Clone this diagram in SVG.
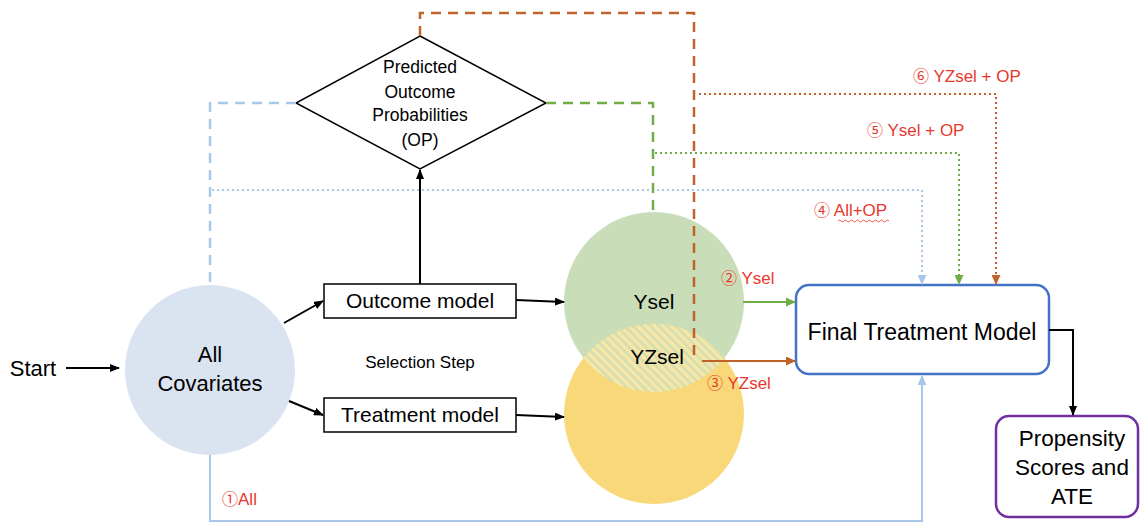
<svg xmlns="http://www.w3.org/2000/svg" width="1140" height="523" viewBox="0 0 1140 523">
<style>
  text { font-family: "Liberation Sans", "DejaVu Sans", Arial, sans-serif; fill: #000; }
  .lbl { font-size: 17px; fill: #E8382E; }
  .cd { font-family: "Noto Sans CJK JP", "DejaVu Sans", sans-serif; font-size: 16px; }
  .box { fill: #fff; stroke: #000; stroke-width: 1.5; }
  .blk { stroke: #000; stroke-width: 2; fill: none; }
  .bl-dash { stroke: #A9C7E8; stroke-width: 2.5; fill: none; stroke-dasharray: 10 7; }
  .bl-dot { stroke: #A9C7E8; stroke-width: 2; fill: none; stroke-dasharray: 2 3; }
  .bl-sol { stroke: #A9C7E8; stroke-width: 2; fill: none; }
  .gr-dash { stroke: #70AD47; stroke-width: 2.5; fill: none; stroke-dasharray: 10 7; }
  .gr-dot { stroke: #70AD47; stroke-width: 2; fill: none; stroke-dasharray: 2 3; }
  .gr-sol { stroke: #70AD47; stroke-width: 2; fill: none; }
  .or-dash { stroke: #C0632B; stroke-width: 2.5; fill: none; stroke-dasharray: 10 7; }
  .or-dot { stroke: #C0632B; stroke-width: 2; fill: none; stroke-dasharray: 2 3; }
  .or-sol { stroke: #C0632B; stroke-width: 2; fill: none; }
</style>
<defs>
  <marker id="ah-k" markerWidth="10" markerHeight="8" refX="9" refY="4" orient="auto" markerUnits="userSpaceOnUse">
    <path d="M0,0 L10,4 L0,8 Z" fill="#000"/>
  </marker>
  <marker id="ah-b" markerWidth="10" markerHeight="9" refX="9" refY="4.5" orient="auto" markerUnits="userSpaceOnUse">
    <path d="M0,0 L10,4.5 L0,9 Z" fill="#A9C7E8"/>
  </marker>
  <marker id="ah-g" markerWidth="10" markerHeight="9" refX="9" refY="4.5" orient="auto" markerUnits="userSpaceOnUse">
    <path d="M0,0 L10,4.5 L0,9 Z" fill="#70AD47"/>
  </marker>
  <marker id="ah-o" markerWidth="10" markerHeight="9" refX="9" refY="4.5" orient="auto" markerUnits="userSpaceOnUse">
    <path d="M0,0 L10,4.5 L0,9 Z" fill="#C0632B"/>
  </marker>
  <pattern id="hatch" patternUnits="userSpaceOnUse" width="6" height="6" patternTransform="rotate(-45)">
    <rect width="6" height="6" fill="#F6E7A6"/>
    <rect width="2.5" height="6" fill="#D3DDB2"/>
  </pattern>
  <clipPath id="clipGreen">
    <circle cx="654" cy="302" r="90"/>
  </clipPath>
</defs>

<g id="start">
  <text x="33" y="376" font-size="22" text-anchor="middle">Start</text>
</g>

<g id="all-covariates">
  <circle cx="210" cy="370" r="85" fill="#DAE3F0"/>
  <text x="210" y="362" font-size="22" text-anchor="middle">All</text>
  <text x="210" y="391" font-size="22" text-anchor="middle">Covariates</text>
</g>

<g id="outcome-model">
  <rect class="box" x="324" y="284" width="192" height="34"/>
  <text x="420" y="308" font-size="21" text-anchor="middle">Outcome model</text>
</g>

<g id="treatment-model">
  <rect class="box" x="324" y="398" width="192" height="34"/>
  <text x="420" y="422" font-size="21" text-anchor="middle">Treatment model</text>
</g>

<g id="selection-step">
  <text x="420" y="368" font-size="17" text-anchor="middle">Selection Step</text>
</g>

<g id="predicted-op">
  <polygon points="420,36 546,103 420,169 296,103" fill="#fff" stroke="#000" stroke-width="1.5"/>
  <text x="420" y="73" font-size="17.5" text-anchor="middle">Predicted</text>
  <text x="420" y="98" font-size="17.5" text-anchor="middle">Outcome</text>
  <text x="420" y="121" font-size="17.5" text-anchor="middle">Probabilities</text>
  <text x="420" y="146" font-size="17.5" text-anchor="middle">(OP)</text>
</g>

<g id="venn">
  <circle cx="654" cy="302" r="90" fill="#C9DEB8"/>
  <circle cx="654" cy="414" r="90" fill="#F9D879"/>
  <circle cx="654" cy="414" r="90" fill="url(#hatch)" clip-path="url(#clipGreen)"/>
  <text x="654" y="309" font-size="21" text-anchor="middle">Ysel</text>
  <text x="657" y="364" font-size="21" text-anchor="middle">YZsel</text>
</g>

<g id="final-treatment-model">
  <rect x="796" y="285" width="253" height="89" rx="13" ry="13" fill="#fff" stroke="#4472C4" stroke-width="2.5"/>
  <text x="922" y="340" font-size="23" text-anchor="middle">Final Treatment Model</text>
</g>

<g id="propensity">
  <rect x="996" y="416" width="142" height="101" rx="13" ry="13" fill="#fff" stroke="#7030A0" stroke-width="2.5"/>
  <text x="1072" y="446" font-size="22.5" text-anchor="middle">Propensity</text>
  <text x="1072" y="475" font-size="22.5" text-anchor="middle">Scores and</text>
  <text x="1072" y="504" font-size="22.5" text-anchor="middle">ATE</text>
</g>

<g id="connectors">
  <line class="blk" x1="66" y1="368" x2="119" y2="368" marker-end="url(#ah-k)"/>
  <line class="blk" x1="284" y1="323" x2="323" y2="301" marker-end="url(#ah-k)"/>
  <line class="blk" x1="289" y1="401" x2="323" y2="415" marker-end="url(#ah-k)"/>
  <line class="blk" x1="420" y1="284" x2="420" y2="170" marker-end="url(#ah-k)"/>
  <line class="blk" x1="516" y1="300" x2="564" y2="302" marker-end="url(#ah-k)"/>
  <line class="blk" x1="516" y1="415" x2="564" y2="417" marker-end="url(#ah-k)"/>
  <polyline class="blk" points="1049,330 1073,330 1073,415" marker-end="url(#ah-k)"/>

  <polyline class="bl-dash" points="296,103 210,103 210,285"/>
  <polyline class="bl-dot" points="212,190 922,190 922,284" marker-end="url(#ah-b)"/>
  <polyline class="bl-sol" points="210,455 210,521 922,521 922,376" marker-end="url(#ah-b)"/>

  <polyline class="gr-dash" points="546,103 653,103 653,212"/>
  <polyline class="gr-dot" points="655,153 959,153 959,284" marker-end="url(#ah-g)"/>
  <line class="gr-sol" x1="743" y1="302" x2="795" y2="302" marker-end="url(#ah-g)"/>

  <polyline class="or-dash" points="420,36 420,13 694,13 694,357"/>
  <polyline class="or-dot" points="699,94 996,94 996,284" marker-end="url(#ah-o)"/>
  <line class="or-sol" x1="702" y1="361" x2="795" y2="361" marker-end="url(#ah-o)"/>
</g>

<g id="labels">
  <text class="lbl" x="222" y="505"><tspan class="cd">①</tspan>All</text>
  <text class="lbl" x="721" y="284"><tspan class="cd">②</tspan> Ysel</text>
  <text class="lbl" x="707" y="389"><tspan class="cd">③</tspan> YZsel</text>
  <text class="lbl" x="814" y="216"><tspan class="cd">④</tspan> All+OP</text>
  <path d="M838,221 q1.5,-2 3,0 t3,0 t3,0 t3,0 t3,0 t3,0 t3,0 t3,0 t3,0 t3,0 t3,0 t3,0 t3,0 t3,0 t3,0 t3,0 t3,0" fill="none" stroke="#E8382E" stroke-width="0.8"/>
  <text class="lbl" x="867" y="136"><tspan class="cd">⑤</tspan> Ysel + OP</text>
  <text class="lbl" x="913" y="82"><tspan class="cd">⑥</tspan> YZsel + OP</text>
</g>
</svg>
